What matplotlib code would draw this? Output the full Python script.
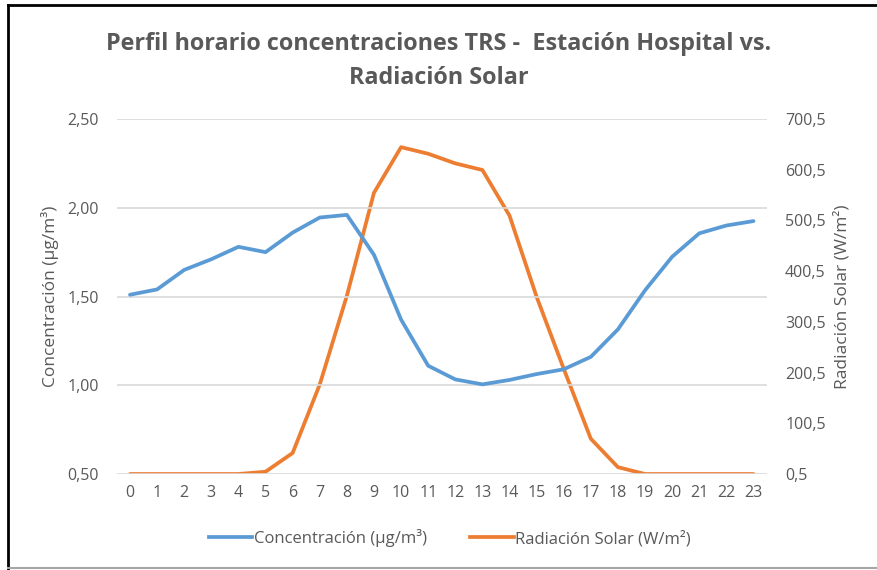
import matplotlib
matplotlib.use('Agg')
import matplotlib.pyplot as plt
from matplotlib.lines import Line2D
import numpy as np

plt.rcParams['font.family'] = ['Open Sans', 'DejaVu Sans']

# datos
horas = list(range(24))
concentracion = [1.51, 1.54, 1.65, 1.71, 1.78, 1.75, 1.86, 1.945, 1.96, 1.735, 1.37, 1.11,
                 1.033, 1.005, 1.03, 1.063, 1.09, 1.16, 1.315, 1.535, 1.724, 1.856, 1.90, 1.925]
radiacion = [0.5, 0.5, 0.5, 0.5, 0.5, 5, 42, 177, 352, 555, 645, 632,
             613, 600, 510, 350, 208, 70, 14, 0.5, 0.5, 0.5, 0.5, 0.5]

izq_ticks = [0.5, 1.0, 1.5, 2.0, 2.5]
der_ticks = [0.5, 100.5, 200.5, 300.5, 400.5, 500.5, 600.5, 700.5]

azul = '#5B9BD5'
naranja = '#ED7D31'
gris = '#595959'

fig = plt.figure(figsize=(8.77, 5.70), dpi=100)
ax1 = fig.add_axes([0.1334, 0.1684, 0.8746 - 0.1334, 0.7912 - 0.1684])
ax2 = ax1.twinx()

ax1.plot(horas, concentracion, color=azul, lw=2.7, solid_capstyle='round', zorder=3)
ax2.plot(horas, radiacion, color=naranja, lw=2.7, solid_capstyle='round', zorder=3)

ax1.set_xlim(-0.48, 23.5)
ax1.set_ylim(0.5, 2.5)
ax2.set_ylim(0.5, 700.5)
ax1.set_xticks(horas)
ax1.set_yticks(izq_ticks)
ax1.set_yticklabels([('%.2f' % v).replace('.', ',') for v in izq_ticks])
ax2.set_yticks(der_ticks)
ax2.set_yticklabels([('%.1f' % v).replace('.', ',') for v in der_ticks])

for ax in (ax1, ax2):
    for s in ax.spines.values():
        s.set_visible(False)
    ax.tick_params(length=0, colors=gris, labelsize=11.5)
ax1.tick_params(axis='y', pad=13)
ax2.tick_params(axis='y', pad=13)
ax1.tick_params(axis='x', pad=8)
ax1.grid(axis='y', color='#D9D9D9', lw=1.2)
ax1.set_axisbelow(True)
ax1.set_zorder(ax2.get_zorder() + 1)
ax1.patch.set_visible(False)

ax1.set_ylabel('Concentración (µg/m³)', color=gris, fontsize=12.5, labelpad=6)
ax2.set_ylabel('Radiación Solar (W/m²)', color=gris, fontsize=12.5, labelpad=6)

fig.text(0.5, 0.893, 'Perfil horario concentraciones TRS -  Estación Hospital vs.\nRadiación Solar',
         ha='center', va='center', fontsize=16.8, fontweight='bold', color=gris, linespacing=1.55)

handles = [Line2D([], [], color=azul, lw=2.7), Line2D([], [], color=naranja, lw=2.7)]
fig.legend(handles, ['Concentración (µg/m³)', 'Radiación Solar (W/m²)'], loc='center',
           bbox_to_anchor=(0.513, 0.056), ncol=2, frameon=False, fontsize=12,
           labelcolor=gris, handlelength=2.6, handletextpad=0.1, columnspacing=2.6)

# marco de la captura
fig.add_artist(Line2D([0.009, 1.0], [0.991, 0.991], color='black', lw=2, transform=fig.transFigure))
fig.add_artist(Line2D([0.009, 0.009], [0.0, 0.991], color='black', lw=2, transform=fig.transFigure))
fig.add_artist(Line2D([0.009, 1.0], [0.004, 0.004], color='#A6A6A6', lw=1.5, transform=fig.transFigure))

fig.savefig('out.png', dpi=100)
